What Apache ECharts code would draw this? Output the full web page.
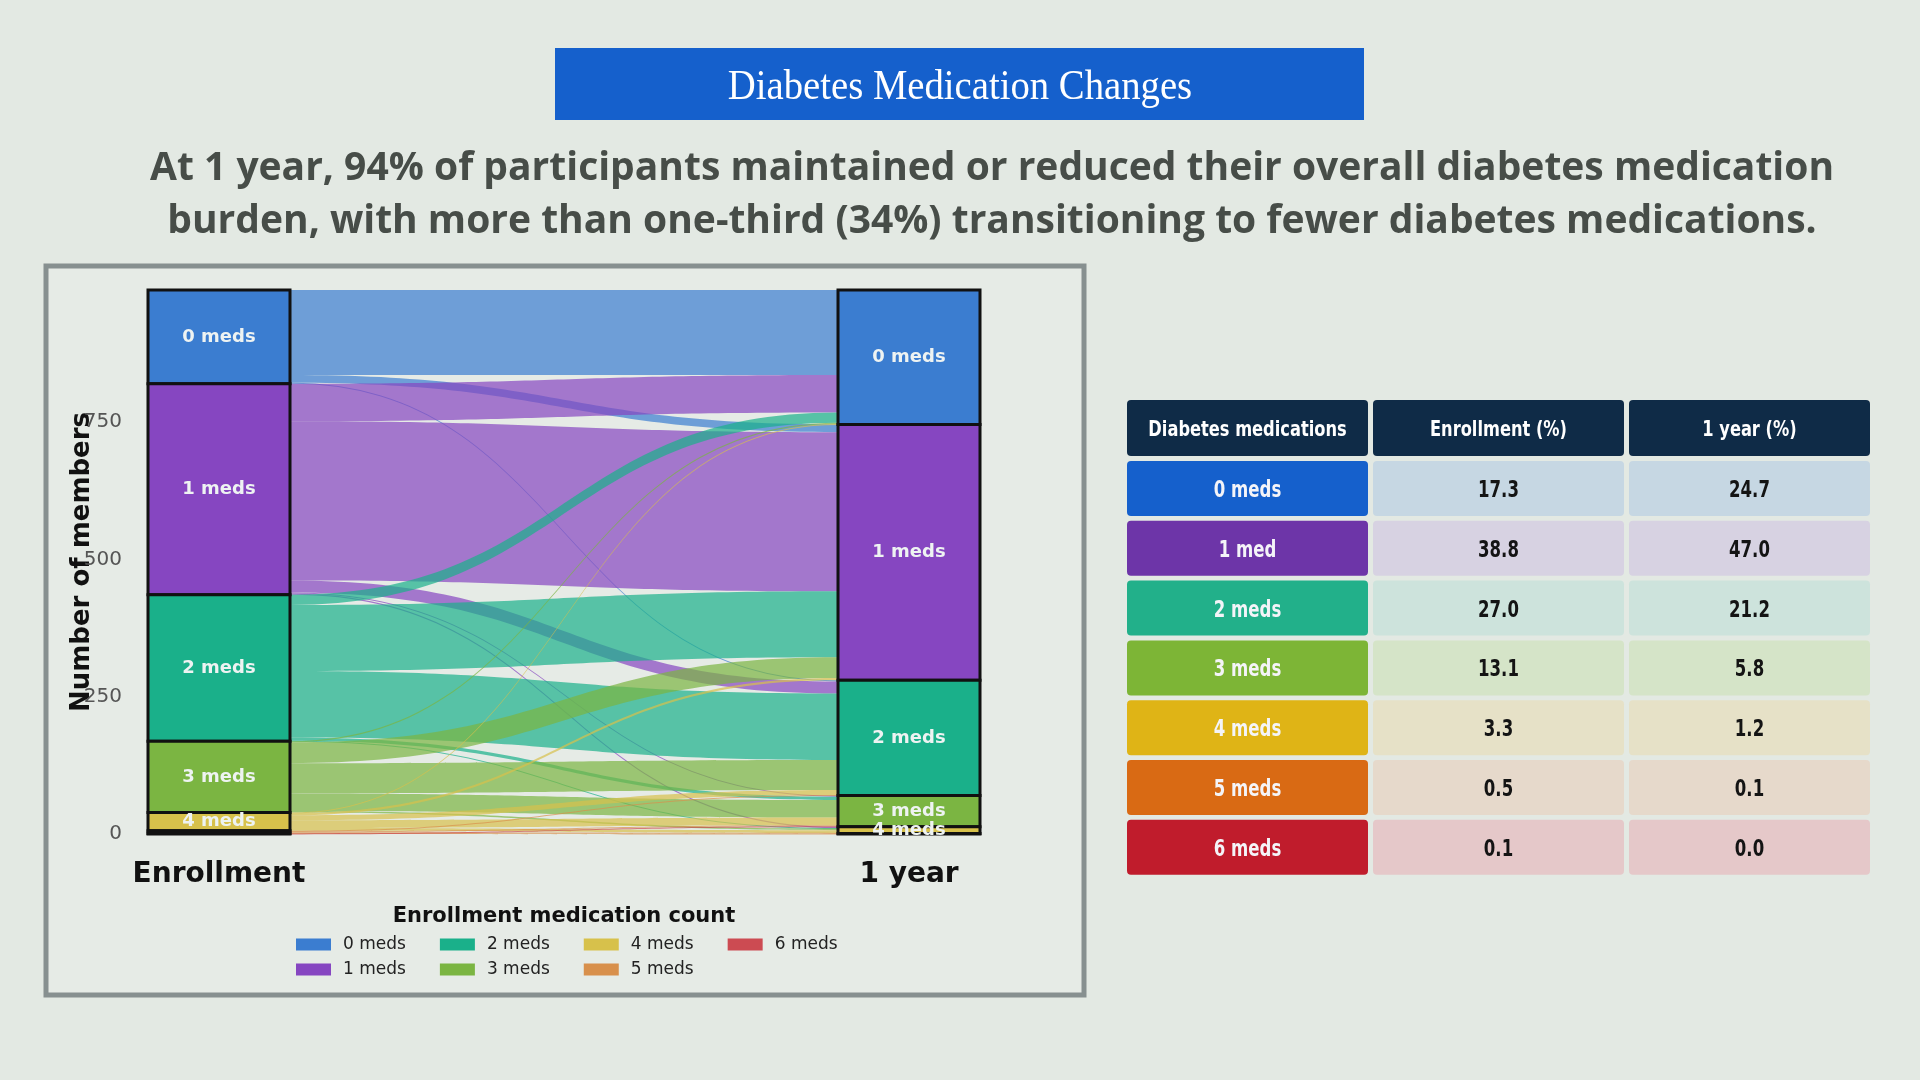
<!DOCTYPE html>
<html lang="en">
<head>
<meta charset="UTF-8">
<title>Diabetes Medication Changes</title>
<script src="https://cdn.jsdelivr.net/npm/echarts@6/dist/echarts.min.js"></script>
<style>
    html, body { margin: 0; padding: 0; background: #e3e9e3; }
    #main { width: 1920px; height: 1080px; }
</style>
</head>
<body>
<div id="main"></div>
<script type="text/javascript">
// ---- data ----
var medLabels = ['0 meds', '1 meds', '2 meds', '3 meds', '4 meds', '5 meds', '6 meds'];
var tableLabels = ['0 meds', '1 med', '2 meds', '3 meds', '4 meds', '5 meds', '6 meds'];
var timepoints = ['Enrollment', '1 year'];
var enrollPct = [17.3, 38.8, 27.0, 13.1, 3.3, 0.5, 0.1];
var yearPct = [24.7, 47.0, 21.2, 5.8, 1.2, 0.1, 0.0];
var tableHeader = ['Diabetes medications', 'Enrollment (%)', '1 year (%)'];
// members: row = count at enrollment, column = count at 1 year
var flow0 = [155, 14, 2, 0, 0, 0, 0];
var flow1 = [68, 290, 22, 2, 2, 0, 0];
var flow2 = [19, 120, 121, 6, 1, 0, 0];
var flow3 = [2, 38, 55, 32, 3, 0, 0];
var flow4 = [1, 4, 9, 14, 5, 0, 0];
var flow5 = [0, 0, 1, 2, 1, 1, 0];
var flow6 = [0, 0, 0, 1, 0, 0, 0];
var yTickStep = 250;

// ---- styles ----
var nodeColors = ['#3b7dd0', '#8646c1', '#1ab08a', '#7bb542', '#d7c14b', '#d8904c', '#cc4b52'];
var cellColors = ['#1560cc', '#6d35a8', '#22b08a', '#7db536', '#dfb416', '#d96a14', '#c01c2c'];
var tintColors = ['#c6d7e3', '#d7d2e2', '#cde3dc', '#d5e4c8', '#e6e1c7', '#e6d9cb', '#e5c8c9'];

var flows = [flow0, flow1, flow2, flow3, flow4, flow5, flow6];
var total = 0;
var colSum = [0, 0, 0, 0, 0, 0, 0];
flows.forEach(function (row) {
    row.forEach(function (v, j) { total += v; colSum[j] += v; });
});

var nodes = [];
var links = [];
medLabels.forEach(function (name, i) {
    var rowSum = flows[i].reduce(function (a, b) { return a + b; }, 0);
    nodes.push({
        name: 'E' + i, depth: 0, itemStyle: { color: nodeColors[i] },
        label: { show: rowSum >= 10, formatter: name }
    });
});
medLabels.forEach(function (name, j) {
    if (colSum[j] > 0) {
        nodes.push({
            name: 'Y' + j, depth: 1, itemStyle: { color: nodeColors[j] },
            label: { show: colSum[j] >= 10, formatter: name }
        });
    }
});
flows.forEach(function (row, i) {
    row.forEach(function (v, j) {
        if (v > 0) links.push({ source: 'E' + i, target: 'Y' + j, value: v });
    });
});

// ---- title, subtitle, panel and table drawn with graphic elements ----
var tableFont = "'DejaVu Sans Condensed', 'DejaVu Sans', sans-serif";
var colX = [1127, 1373, 1629];
var colW = [241, 251, 241];
var graphics = [
    { type: 'rect', shape: { x: 46, y: 266, width: 1038, height: 729 },
      style: { fill: '#e6ebe6', stroke: '#879090', lineWidth: 5 }, z: -10 },
    { type: 'rect', shape: { x: 555, y: 48, width: 809, height: 72 }, style: { fill: '#1560cc' } },
    { type: 'text', x: 960, y: 88, scaleX: 0.9, style: { text: 'Diabetes Medication Changes', fill: '#ffffff',
      font: "43px 'Liberation Serif', serif", textAlign: 'center', textVerticalAlign: 'middle' } },
    { type: 'text', x: 992, y: 169, style: { text: 'At 1 year, 94% of participants maintained or reduced their overall diabetes medication',
      fill: '#474d48', font: "bold 39px 'Open Sans', sans-serif", textAlign: 'center', textVerticalAlign: 'middle' } },
    { type: 'text', x: 992, y: 222, style: { text: 'burden, with more than one-third (34%) transitioning to fewer diabetes medications.',
      fill: '#474d48', font: "bold 39px 'Open Sans', sans-serif", textAlign: 'center', textVerticalAlign: 'middle' } },
    { type: 'text', x: 564, y: 917, style: { text: 'Enrollment medication count', fill: '#111',
      font: "bold 21px 'DejaVu Sans', sans-serif", textAlign: 'center', textVerticalAlign: 'middle' } }
];
tableHeader.forEach(function (h, c) {
    graphics.push({ type: 'rect', shape: { x: colX[c], y: 400, width: colW[c], height: 56, r: 4 },
        style: { fill: '#0f2b47' } });
    graphics.push({ type: 'text', x: colX[c] + colW[c] / 2, y: 431, scaleX: 0.86, style: { text: h, fill: '#ffffff',
        font: 'bold 21px ' + tableFont, textAlign: 'center', textVerticalAlign: 'middle' } });
});
tableLabels.forEach(function (lab, r) {
    var y = 461 + r * 59.8;
    var cells = [lab, enrollPct[r].toFixed(1), yearPct[r].toFixed(1)];
    cells.forEach(function (t, c) {
        graphics.push({ type: 'rect', shape: { x: colX[c], y: y, width: colW[c], height: 55, r: 4 },
            style: { fill: c === 0 ? cellColors[r] : tintColors[r] } });
        graphics.push({ type: 'text', x: colX[c] + colW[c] / 2, y: y + 30, scaleX: 0.8, style: { text: t,
            fill: c === 0 ? '#f4f4f8' : '#141414', font: 'bold 23px ' + tableFont,
            textAlign: 'center', textVerticalAlign: 'middle' } });
    });
});

// legend entries come from empty bar series, one per medication count
var legendSeries = medLabels.map(function (name, i) {
    return { name: name, type: 'bar', data: [], itemStyle: { color: nodeColors[i] } };
});

var legendBase = {
    icon: 'rect', itemWidth: 35, itemHeight: 12, itemGap: 34, orient: 'horizontal',
    selectedMode: false,
    textStyle: { fontFamily: 'DejaVu Sans', fontSize: 17, color: '#222', padding: [0, 0, 0, 7] }
};

var myChart = echarts.init(document.getElementById('main'));
myChart.setOption({
    backgroundColor: '#e3e9e3',
    animation: false,
    graphic: graphics,
    legend: [
        Object.assign({}, legendBase, { left: 291, top: 931, data: ['0 meds', '2 meds', '4 meds', '6 meds'] }),
        Object.assign({}, legendBase, { left: 291, top: 956, data: ['1 meds', '3 meds', '5 meds'] })
    ],
    grid: { left: 219, top: 290, width: 690, height: 544 },
    xAxis: {
        type: 'category', data: timepoints, boundaryGap: false,
        axisLine: { show: false }, axisTick: { show: false },
        axisLabel: { fontFamily: 'DejaVu Sans', fontWeight: 'bold', fontSize: 28, color: '#111', margin: 27 }
    },
    yAxis: {
        type: 'value', min: 0, max: total, interval: yTickStep,
        axisLine: { show: false }, axisTick: { show: false }, splitLine: { show: false },
        axisLabel: { showMaxLabel: false, fontFamily: 'DejaVu Sans', fontSize: 20, color: '#555', margin: 97 },
        name: 'Number of members', nameLocation: 'middle', nameGap: 124, nameMoveOverlap: false,
        nameTextStyle: { fontFamily: 'DejaVu Sans', fontWeight: 'bold', fontSize: 26, color: '#111' }
    },
    series: [{
        type: 'sankey',
        left: 148, right: 940, top: 290, bottom: 246,
        nodeWidth: 142, nodeGap: 0, layoutIterations: 0, draggable: false,
        emphasis: { disabled: true },
        data: nodes,
        links: links,
        itemStyle: { borderColor: '#111', borderWidth: 3 },
        label: { position: 'inside', color: '#eef3f2', fontFamily: 'DejaVu Sans', fontWeight: 'bold', fontSize: 18 },
        lineStyle: { color: 'source', opacity: 0.7, curveness: 0.5 }
    }].concat(legendSeries)
});

window.addEventListener('resize', function () {
    myChart.resize();
});
</script>
</body>
</html>
